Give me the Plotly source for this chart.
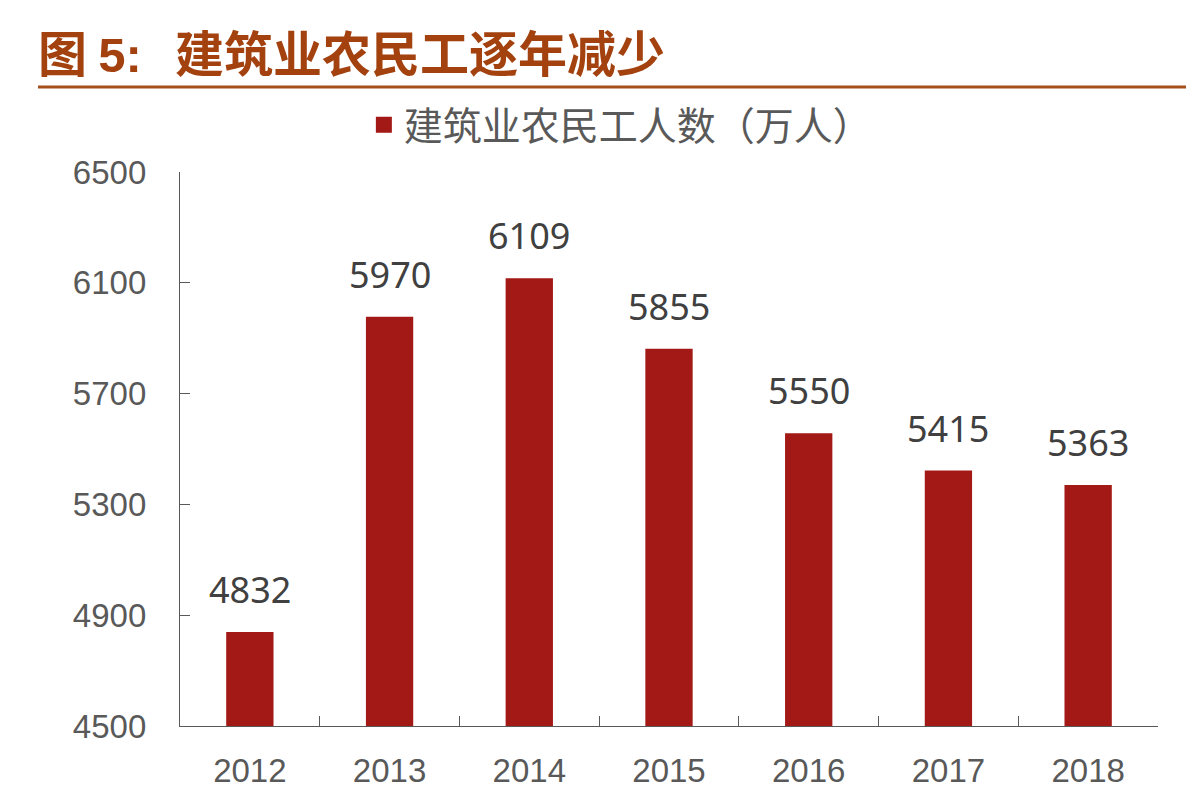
import plotly.graph_objects as go

years = ["2012", "2013", "2014", "2015", "2016", "2017", "2018"]
workers = [4832, 5970, 6109, 5855, 5550, 5415, 5363]
y_ticks = [4500, 4900, 5300, 5700, 6100, 6500]

series_name = "建筑业农民工人数（万人）"
title_text = ("图&nbsp;<span style='font-family:Liberation Sans'>5:</span>"
              "&nbsp;&nbsp;&nbsp;建筑业农民工逐年减少")

BAR = "#A21916"
BROWN = "#A3410F"
GREY = "#595959"

fig = go.Figure(go.Bar(
    x=years,
    y=workers,
    name=series_name,
    # a thin outline in the fill colour also makes the legend swatch bigger
    marker=dict(color=BAR, line=dict(width=4, color=BAR)),
    showlegend=True,
))

# value labels sit a little above each bar (category axis -> use the serial index)
for i, v in enumerate(workers):
    fig.add_annotation(
        x=i, y=v, text=str(v), showarrow=False,
        yanchor="bottom", yshift=18,
        font=dict(family="Noto Sans", size=36, color="#404040"),
    )

# rule under the title
fig.add_shape(
    type="line", xref="paper", yref="paper",
    x0=-0.1452, x1=1.05, y0=1.1534, y1=1.1534,
    line=dict(color="#A5501C", width=3),
)

fig.update_layout(
    width=1194, height=790,
    margin=dict(l=172, r=44, t=164, b=72),
    paper_bgcolor="white", plot_bgcolor="white",
    bargap=0.69,
    title=dict(
        text=title_text, xref="container", yref="container",
        x=30 / 1194, xanchor="left", y=1 - 47 / 790, yanchor="middle",
        font=dict(family="Noto Sans CJK SC", size=49, color=BROWN, weight="bold"),
    ),
    legend=dict(
        orientation="h", x=0.188, xanchor="left", y=1.085, yanchor="middle",
        font=dict(family="Noto Sans CJK SC", size=39, color=GREY),
        bgcolor="rgba(0,0,0,0)",
    ),
    xaxis=dict(
        type="category",
        showline=True, linecolor=GREY, linewidth=1.3,
        ticks="inside", tickson="boundaries", ticklen=10, tickcolor=GREY,
        tickfont=dict(family="Liberation Sans", size=33, color=GREY),
        ticklabelstandoff=15, tickangle=0, automargin=False,
        showgrid=False, zeroline=False,
    ),
    yaxis=dict(
        range=[4500, 6500], tickvals=y_ticks,
        showline=True, linecolor=GREY, linewidth=1.3,
        ticks="inside", ticklen=10, tickcolor=GREY,
        tickfont=dict(family="Liberation Sans", size=33, color=GREY),
        ticklabelstandoff=26, automargin=False,
        showgrid=False, zeroline=False,
    ),
)

fig.write_html("out.html")
